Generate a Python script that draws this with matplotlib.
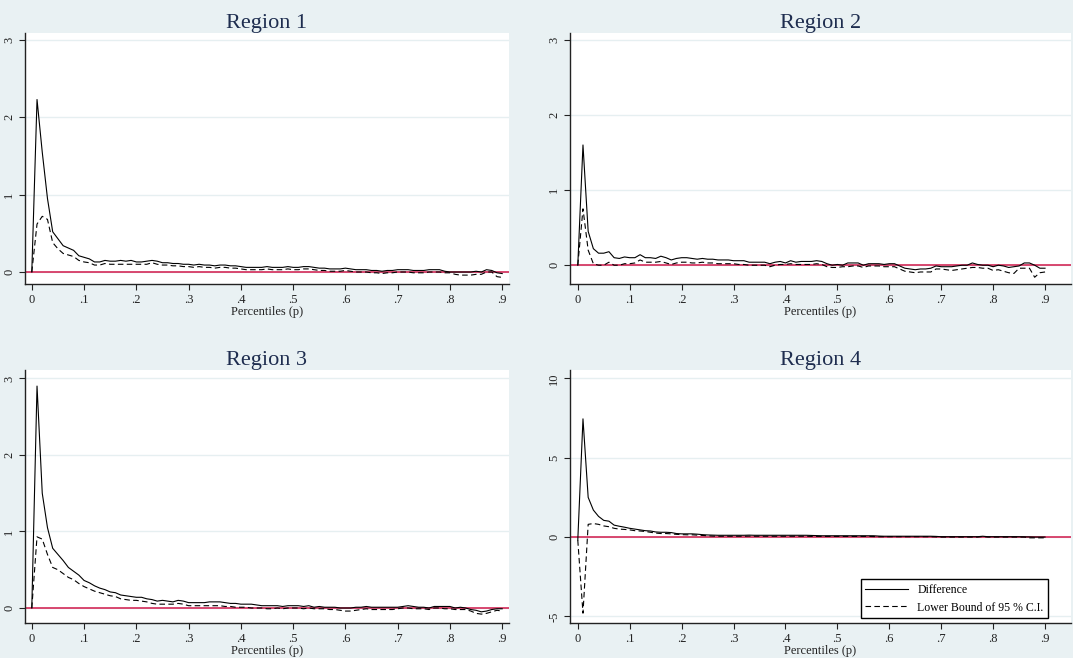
import matplotlib
matplotlib.use('Agg')
import matplotlib.pyplot as plt
import numpy as np

# percentiles 0 .. .9 in steps of .01
p = np.round(np.arange(0, 91) * 0.01, 2)

r1_diff = [0, 2.23, 1.55, 0.95, 0.52, 0.43, 0.34, 0.31, 0.28, 0.21,
           0.19, 0.17, 0.13, 0.13, 0.15, 0.14, 0.14, 0.15, 0.14, 0.15,
           0.13, 0.13, 0.14, 0.15, 0.14, 0.12, 0.12, 0.11, 0.11, 0.10,
           0.10, 0.09, 0.10, 0.09, 0.09, 0.08, 0.09, 0.09, 0.08, 0.08,
           0.07, 0.06, 0.06, 0.06, 0.06, 0.07, 0.06, 0.06, 0.06, 0.07,
           0.06, 0.06, 0.07, 0.07, 0.06, 0.05, 0.05, 0.04, 0.04, 0.04,
           0.05, 0.04, 0.03, 0.03, 0.03, 0.02, 0.02, 0.01, 0.02, 0.02,
           0.03, 0.03, 0.03, 0.02, 0.02, 0.02, 0.03, 0.03, 0.03, 0.01,
           0.00, 0.00, 0.00, 0.00, 0.00, 0.01, 0.00, 0.03, 0.02, -0.01, -0.02]
r1_lower = [0, 0.62, 0.72, 0.68, 0.38, 0.30, 0.24, 0.22, 0.20, 0.15,
            0.13, 0.12, 0.09, 0.09, 0.11, 0.10, 0.10, 0.10, 0.10, 0.10,
            0.10, 0.10, 0.10, 0.12, 0.10, 0.09, 0.09, 0.08, 0.08, 0.07,
            0.07, 0.06, 0.07, 0.06, 0.06, 0.05, 0.06, 0.06, 0.05, 0.05,
            0.04, 0.03, 0.03, 0.03, 0.03, 0.04, 0.03, 0.03, 0.03, 0.04,
            0.03, 0.03, 0.04, 0.04, 0.03, 0.02, 0.02, 0.01, 0.01, 0.01,
            0.02, 0.01, 0.00, 0.00, 0.00, -0.01, -0.01, -0.02, -0.01, -0.01,
            0.00, 0.00, 0.00, -0.01, -0.01, -0.01, 0.00, 0.00, 0.00, -0.01,
            -0.01, -0.03, -0.04, -0.04, -0.04, -0.03, -0.03, 0.00, 0.00, -0.06, -0.07]

r2_diff = [0, 1.60, 0.45, 0.22, 0.16, 0.16, 0.18, 0.10, 0.09, 0.11,
           0.10, 0.10, 0.14, 0.10, 0.10, 0.09, 0.12, 0.10, 0.07, 0.09,
           0.10, 0.10, 0.09, 0.08, 0.09, 0.08, 0.08, 0.07, 0.07, 0.07,
           0.06, 0.06, 0.06, 0.04, 0.04, 0.04, 0.04, 0.02, 0.04, 0.05,
           0.03, 0.06, 0.04, 0.05, 0.05, 0.05, 0.06, 0.05, 0.02, 0.00,
           0.01, 0.00, 0.03, 0.03, 0.03, 0.00, 0.02, 0.02, 0.02, 0.01,
           0.02, 0.02, -0.01, -0.04, -0.05, -0.06, -0.05, -0.05, -0.04, -0.01,
           -0.02, -0.02, -0.02, -0.01, 0.00, 0.00, 0.03, 0.01, 0.00, 0.00,
           -0.02, 0.00, -0.01, -0.03, -0.02, -0.01, 0.03, 0.03, 0.00, -0.04, -0.04]
r2_lower = [0, 0.75, 0.20, 0.02, 0.00, 0.00, 0.04, 0.00, 0.00, 0.02,
            0.02, 0.03, 0.07, 0.04, 0.04, 0.04, 0.05, 0.03, 0.01, 0.03,
            0.04, 0.04, 0.03, 0.03, 0.04, 0.03, 0.03, 0.02, 0.02, 0.02,
            0.02, 0.01, 0.01, 0.00, 0.00, 0.00, 0.00, -0.02, 0.00, 0.01,
            0.01, 0.02, 0.01, 0.01, 0.01, 0.01, 0.02, 0.01, -0.02, -0.03,
            -0.03, -0.02, -0.02, -0.01, -0.01, -0.03, -0.01, -0.01, -0.01, -0.02,
            -0.02, -0.02, -0.05, -0.08, -0.09, -0.10, -0.09, -0.09, -0.09, -0.05,
            -0.05, -0.06, -0.07, -0.06, -0.05, -0.04, -0.03, -0.03, -0.04, -0.04,
            -0.07, -0.06, -0.08, -0.10, -0.11, -0.04, -0.04, -0.04, -0.16, -0.10, -0.09]

r3_diff = [0, 2.90, 1.50, 1.05, 0.78, 0.70, 0.62, 0.53, 0.48, 0.43,
           0.36, 0.33, 0.29, 0.26, 0.24, 0.21, 0.20, 0.17, 0.16, 0.15,
           0.14, 0.14, 0.12, 0.11, 0.09, 0.10, 0.09, 0.08, 0.10, 0.09,
           0.07, 0.07, 0.07, 0.07, 0.08, 0.08, 0.08, 0.07, 0.06, 0.06,
           0.05, 0.05, 0.05, 0.04, 0.03, 0.03, 0.03, 0.03, 0.02, 0.03,
           0.03, 0.03, 0.02, 0.03, 0.01, 0.02, 0.01, 0.01, 0.01, 0.00,
           0.00, 0.00, 0.01, 0.01, 0.02, 0.01, 0.01, 0.01, 0.01, 0.01,
           0.01, 0.02, 0.03, 0.02, 0.01, 0.01, 0.00, 0.02, 0.02, 0.02,
           0.02, 0.00, 0.01, 0.00, -0.02, -0.03, -0.05, -0.04, -0.02, -0.01, -0.01]
r3_lower = [0, 0.93, 0.90, 0.70, 0.53, 0.50, 0.45, 0.40, 0.37, 0.32,
            0.28, 0.25, 0.22, 0.20, 0.18, 0.16, 0.15, 0.12, 0.11, 0.10,
            0.10, 0.09, 0.08, 0.06, 0.05, 0.05, 0.05, 0.05, 0.06, 0.05,
            0.03, 0.03, 0.03, 0.03, 0.03, 0.03, 0.03, 0.02, 0.02, 0.01,
            0.01, 0.01, 0.00, 0.00, 0.00, -0.01, -0.01, 0.00, -0.01, 0.00,
            0.00, 0.00, -0.01, 0.00, -0.01, -0.01, -0.01, -0.02, -0.02, -0.03,
            -0.04, -0.04, -0.03, -0.02, -0.01, -0.02, -0.02, -0.02, -0.02, -0.02,
            -0.01, 0.00, 0.00, -0.01, -0.01, -0.01, -0.02, 0.00, 0.00, -0.01,
            -0.01, -0.02, -0.02, -0.02, -0.04, -0.07, -0.08, -0.07, -0.05, -0.03, -0.04]

r4_diff = [-0.2, 7.45, 2.50, 1.70, 1.30, 1.05, 1.00, 0.75, 0.68, 0.62,
           0.55, 0.50, 0.45, 0.40, 0.38, 0.32, 0.30, 0.30, 0.28, 0.22,
           0.20, 0.20, 0.20, 0.18, 0.15, 0.13, 0.12, 0.11, 0.11, 0.11,
           0.11, 0.11, 0.11, 0.12, 0.11, 0.11, 0.11, 0.11, 0.11, 0.11,
           0.11, 0.11, 0.11, 0.11, 0.11, 0.10, 0.09, 0.08, 0.08, 0.08,
           0.08, 0.08, 0.08, 0.08, 0.08, 0.08, 0.08, 0.08, 0.06, 0.05,
           0.05, 0.05, 0.05, 0.05, 0.05, 0.05, 0.05, 0.05, 0.05, 0.04,
           0.02, 0.02, 0.02, 0.02, 0.02, 0.02, 0.02, 0.02, 0.05, 0.02,
           0.02, 0.02, 0.02, 0.02, 0.02, 0.02, 0.01, 0.01, 0.00, 0.00, 0.00]
r4_lower = [-0.2, -4.80, 0.80, 0.85, 0.80, 0.70, 0.65, 0.55, 0.50, 0.48,
            0.45, 0.40, 0.38, 0.35, 0.30, 0.25, 0.22, 0.22, 0.20, 0.17,
            0.15, 0.14, 0.14, 0.12, 0.10, 0.08, 0.06, 0.05, 0.05, 0.05,
            0.05, 0.05, 0.05, 0.06, 0.05, 0.05, 0.05, 0.05, 0.05, 0.05,
            0.05, 0.05, 0.05, 0.05, 0.05, 0.04, 0.04, 0.04, 0.04, 0.04,
            0.04, 0.04, 0.04, 0.04, 0.04, 0.04, 0.04, 0.03, 0.02, 0.02,
            0.02, 0.02, 0.02, 0.02, 0.02, 0.02, 0.02, 0.02, 0.02, 0.01,
            0.00, 0.00, 0.00, 0.00, 0.00, 0.00, 0.00, 0.00, 0.03, 0.00,
            0.00, 0.00, 0.00, 0.00, 0.00, 0.00, 0.00, -0.05, -0.05, -0.05, -0.05]

titles = ['Region 1', 'Region 2', 'Region 3', 'Region 4']
diffs = [r1_diff, r2_diff, r3_diff, r4_diff]
lowers = [r1_lower, r2_lower, r3_lower, r4_lower]
yticks = [[0, 1, 2, 3], [0, 1, 2, 3], [0, 1, 2, 3], [-5, 0, 5, 10]]
ylims = [(-0.155, 3.09), (-0.25, 3.09), (-0.196, 3.11), (-5.42, 10.53)]
xticks = [0, .1, .2, .3, .4, .5, .6, .7, .8, .9]
xticklabels = ['0', '.1', '.2', '.3', '.4', '.5', '.6', '.7', '.8', '.9']

plt.rcParams['font.family'] = ['Liberation Serif', 'DejaVu Serif']

W, H = 1073, 658
bg = '#e9f1f3'
fig = plt.figure(figsize=(W / 100, H / 100), dpi=100, facecolor=bg)

# pixel boxes: left, right, top, bottom
boxes = [(25, 509, 33, 284), (570, 1071, 33, 284),
         (25, 509, 370, 623), (570, 1071, 370, 623)]
xlims = [(-0.013, 0.913), (-0.015, 0.95), (-0.013, 0.913), (-0.015, 0.95)]

for i in range(4):
    l, r, t, b = boxes[i]
    ax = fig.add_axes([l / W, 1 - b / H, (r - l) / W, (b - t) / H])
    ax.set_facecolor('white')
    for s in ['top', 'right']:
        ax.spines[s].set_visible(False)
    for s in ['left', 'bottom']:
        ax.spines[s].set_color('#222222')
        ax.spines[s].set_linewidth(1.0)

    for yt in yticks[i]:
        ax.axhline(yt, color='#e6eff1', lw=1.0, zorder=0)
    ax.axhline(0, color='#d0184a', lw=1.1, zorder=1)

    ax.plot(p, diffs[i], color='black', lw=0.8, label='Difference', zorder=3)
    ax.plot(p, lowers[i], color='black', lw=0.8, dashes=(5, 3),
            label='Lower Bound of 95 % C.I.', zorder=3)

    ax.set_xlim(*xlims[i])
    ax.set_ylim(*ylims[i])
    ax.set_xticks(xticks)
    ax.set_xticklabels(xticklabels, fontsize=9, color='#222222')
    ax.set_yticks(yticks[i])
    ax.set_yticklabels([str(v) for v in yticks[i]], fontsize=9,
                       rotation=90, va='center', color='#222222')
    ax.tick_params(axis='both', length=4, width=0.8, color='#222222', pad=3)
    ax.set_xlabel('Percentiles (p)', fontsize=9, labelpad=0, color='#222222')
    ax.set_title(titles[i], fontsize=16, color='#1e2d4f', pad=3)

    if i == 3:
        leg = ax.legend(loc='lower right', fontsize=8.5, frameon=True,
                        fancybox=False, edgecolor='black', framealpha=1,
                        handlelength=3.6, borderaxespad=0.4,
                        bbox_to_anchor=(0.964, 0.0))
        leg.get_frame().set_linewidth(1.0)

fig.savefig('out.png', dpi=100, facecolor=bg)
